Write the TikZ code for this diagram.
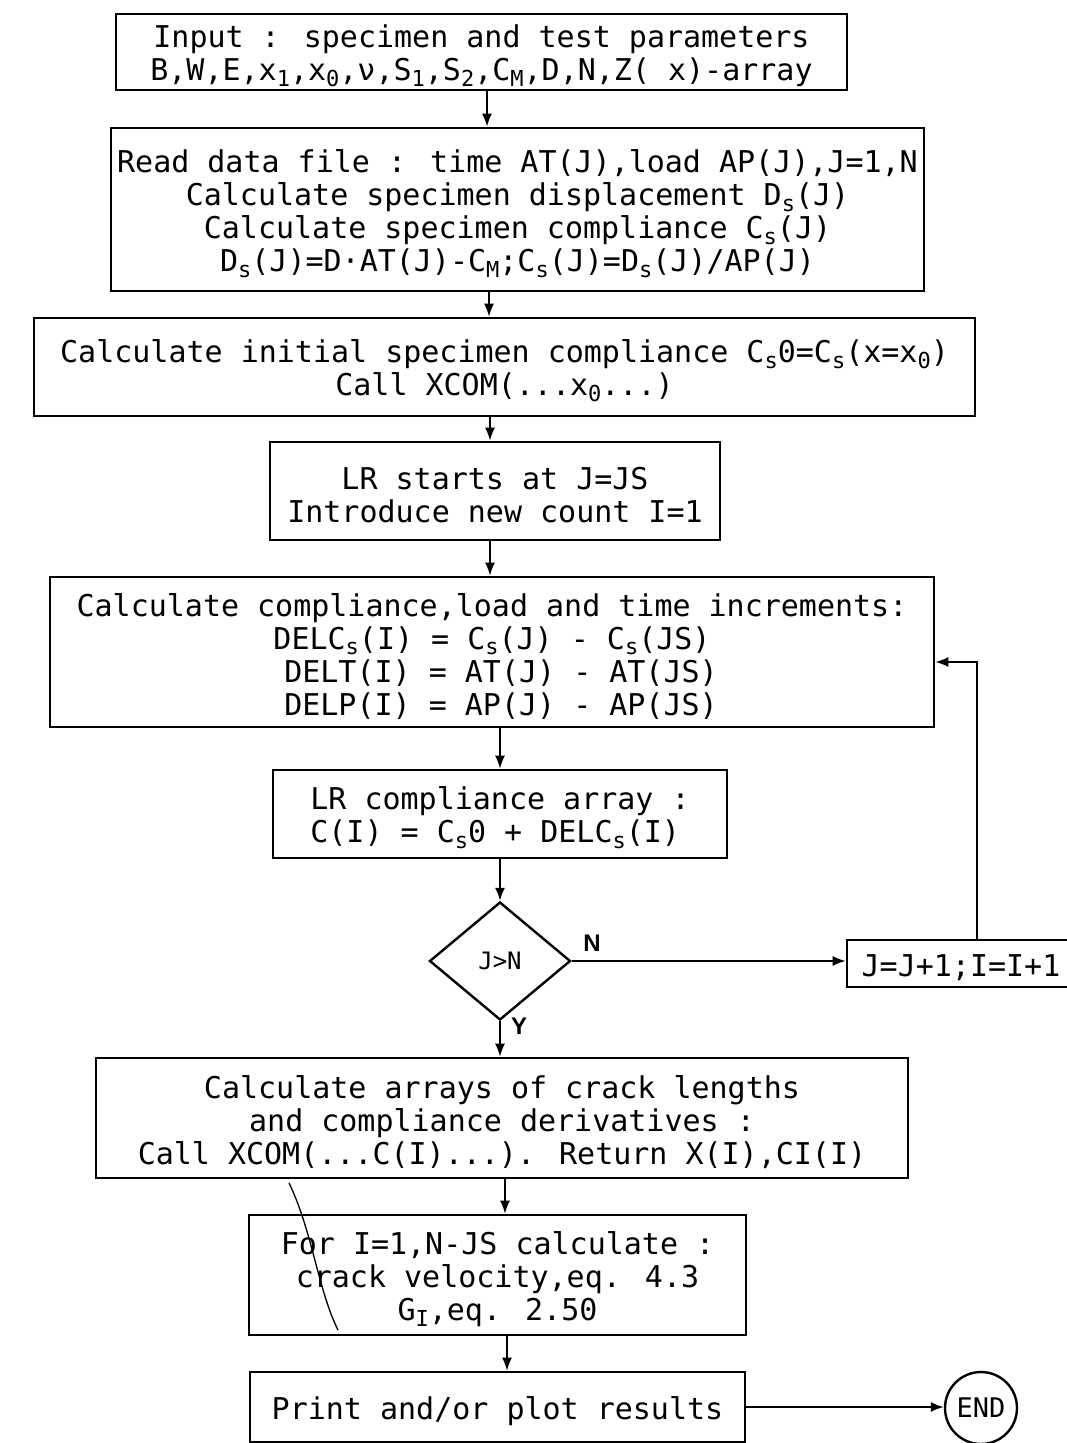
\documentclass[tikz,border=0pt]{standalone}
\usepackage{fontspec}
\usetikzlibrary{shapes.geometric,arrows.meta}
\newfontfamily\mono{DejaVu Sans Mono}
\newfontfamily\lblfont{Liberation Sans}
% lowered, smaller index characters
\newcommand\lo[1]{\raisebox{-0.35ex}{\fontsize{22}{22}\selectfont #1}}
% taller first line, so the text block sits a little lower in its box
\newcommand\firststrut{\rule{0pt}{31pt}}
\begin{document}
\begin{tikzpicture}[x=1pt,y=-1pt,
  stepbox/.style={draw,line width=2.6pt,inner sep=0pt,align=center,
    font=\mono\fontsize{30}{33}\selectfont},
  choice/.style={draw,diamond,line width=2.4pt,inner sep=0pt,
    font=\mono\fontsize{24}{24}\selectfont},
  term/.style={draw,circle,line width=2.4pt,inner sep=0pt,
    font=\mono\fontsize{27}{27}\selectfont},
  arr/.style={line width=1.8pt,-{Latex[length=13pt,width=10pt]}},
  yn/.style={font=\lblfont\bfseries\fontsize{24}{24}\selectfont}]
\useasboundingbox (0,0) rectangle (1067,1443);

% process boxes
\node[stepbox,minimum width=731pt,minimum height=76pt] (in) at (481.5,52)
  {\firststrut Input : specimen and test parameters\\
   B,W,E,x\lo{1},x\lo{0},ν,S\lo{1},S\lo{2},C\lo{M},D,N,Z( x)-array};
\node[stepbox,minimum width=813pt,minimum height=163pt] (read) at (517.5,209.5)
  {\firststrut Read data file : time AT(J),load AP(J),J=1,N\\
   Calculate specimen displacement D\lo{s}(J)\\
   Calculate specimen compliance C\lo{s}(J)\\
   D\lo{s}(J)=D·AT(J)-C\lo{M};C\lo{s}(J)=D\lo{s}(J)/AP(J)};
\node[stepbox,minimum width=941pt,minimum height=98pt] (init) at (504.5,367)
  {\firststrut Calculate initial specimen compliance C\lo{s}0=C\lo{s}(x=x\lo{0})\\
   Call XCOM(...x\lo{0}...)};
\node[stepbox,minimum width=450pt,minimum height=98pt] (lr) at (495,491)
  {\firststrut LR starts at J=JS\\ Introduce new count I=1};
\node[stepbox,minimum width=884pt,minimum height=150pt] (incr) at (492,652)
  {\firststrut Calculate compliance,load and time increments:\\
   DELC\lo{s}(I) = C\lo{s}(J) - C\lo{s}(JS)\\
   \phantom{D}DELT(I) = AT(J) - AT(JS)\\
   \phantom{D}DELP(I) = AP(J) - AP(JS)};
\node[stepbox,align=left,minimum width=454pt,minimum height=88pt] (arr) at (500,814)
  {\firststrut LR compliance array :\\ C(I) = C\lo{s}0 + DELC\lo{s}(I)};
\node[choice,minimum width=141pt,minimum height=118pt] (dec) at (500,961) {J>N};
\node[stepbox,minimum width=228pt,minimum height=47pt] (jinc) at (961,963.5)
  {\firststrut J=J+1;I=I+1};
\node[stepbox,minimum width=812pt,minimum height=120pt] (crack) at (502,1118)
  {\firststrut Calculate arrays of crack lengths\\
   and compliance derivatives :\\
   Call XCOM(...C(I)...). Return X(I),CI(I)};
\node[stepbox,minimum width=497pt,minimum height=120pt] (vel) at (497.5,1275)
  {\firststrut For I=1,N-JS calculate :\\
   crack velocity,eq. 4.3\\
   G\lo{I},eq. 2.50};
\node[stepbox,minimum width=495pt,minimum height=70pt] (print) at (497.5,1407)
  {\firststrut Print and/or plot results};
\node[term,minimum size=72pt] (end) at (981,1408) {END};

% branch labels
\node[yn] (nlab) at (592,943) {N};
\node[yn] (ylab) at (519,1026) {Y};

% x positions of the vertical connectors
\coordinate (x1) at (487,0);
\coordinate (x2) at (489,0);
\coordinate (x3) at (490,0);
\coordinate (x4) at (500,0);
\coordinate (x5) at (505,0);
\coordinate (x6) at (507,0);
\coordinate (loop) at (977,662);

% connectors
\draw[arr] (in.south -| x1) -- (read.north -| x1);
\draw[arr] (read.south -| x2) -- (init.north -| x2);
\draw[arr] (init.south -| x3) -- (lr.north -| x3);
\draw[arr] (lr.south -| x3) -- (incr.north -| x3);
\draw[arr] (incr.south -| x4) -- (arr.north -| x4);
\draw[arr] (arr.south -| x4) -- (dec.north);
\draw[arr] (dec.east) -- (jinc.west |- dec.east);
\draw[arr] (jinc.north -| loop) -- (loop) -- (incr.east |- loop);
\draw[arr] (dec.south) -- (crack.north -| dec.south);
\draw[arr] (crack.south -| x5) -- (vel.north -| x5);
\draw[arr] (vel.south -| x6) -- (print.north -| x6);
\draw[arr] (print.east) -- (print.east -| end.west);

% pencil stroke across the velocity box
\draw[line width=1.3pt] (289,1183) .. controls (312,1230) and (318,1290) .. (338,1330);
\end{tikzpicture}
\end{document}
